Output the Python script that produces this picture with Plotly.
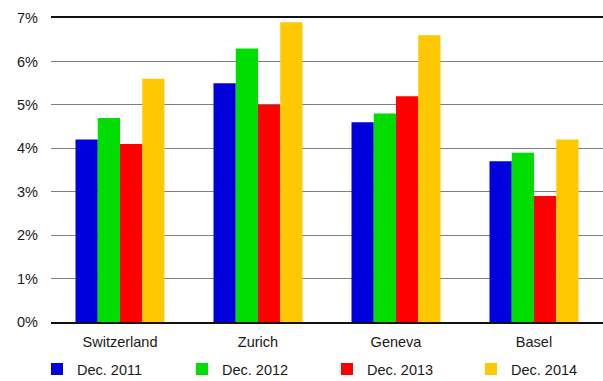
import plotly.graph_objects as go

regions = ["Switzerland", "Zurich", "Geneva", "Basel"]
series_names = ["Dec. 2011", "Dec. 2012", "Dec. 2013", "Dec. 2014"]
dec_2011 = [4.2, 5.5, 4.6, 3.7]
dec_2012 = [4.7, 6.3, 4.8, 3.9]
dec_2013 = [4.1, 5.0, 5.2, 2.9]
dec_2014 = [5.6, 6.9, 6.6, 4.2]
colors = ["#0000dd", "#00dd00", "#ff0000", "#ffc800"]

y_ticks = [0, 1, 2, 3, 4, 5, 6, 7]
y_tick_labels = [f"{v}%" for v in y_ticks]

# one single-entry legend per series, spread evenly along the bottom
legend_ids = ["legend", "legend2", "legend3", "legend4"]
legend_x_px = [37, 182, 327, 471]

fig = go.Figure()
for name, vals, col, lg in zip(series_names, [dec_2011, dec_2012, dec_2013, dec_2014], colors, legend_ids):
    fig.add_trace(go.Bar(x=regions, y=vals, name=name, legend=lg,
                         marker=dict(color=col, line=dict(width=0))))

legend_layout = {}
for lg, px in zip(legend_ids, legend_x_px):
    legend_layout[lg] = dict(orientation="h", xref="container", yref="container",
                             x=px / 603, y=0.031, xanchor="left", yanchor="middle",
                             font=dict(size=14.5), bgcolor="rgba(0,0,0,0)")

fig.update_layout(
    width=603, height=381,
    margin=dict(l=51, r=0, t=18, b=59, autoexpand=False),
    paper_bgcolor="white", plot_bgcolor="white",
    barmode="group", bargap=0.355, bargroupgap=0,
    font=dict(family="Liberation Sans, Arial, sans-serif", size=14.5, color="#1a1a1a"),
    showlegend=True,
    **legend_layout,
)
fig.update_xaxes(showline=True, mirror=True, linecolor="#111", linewidth=1.5,
                 showgrid=False, ticks="", ticklabelstandoff=6)
fig.update_yaxes(range=[0, 7], tickvals=y_ticks, ticktext=y_tick_labels,
                 showgrid=True, gridcolor="#808080", gridwidth=1, zeroline=False,
                 showline=False, ticks="", ticklabelstandoff=12)

fig.write_html("out.html")
